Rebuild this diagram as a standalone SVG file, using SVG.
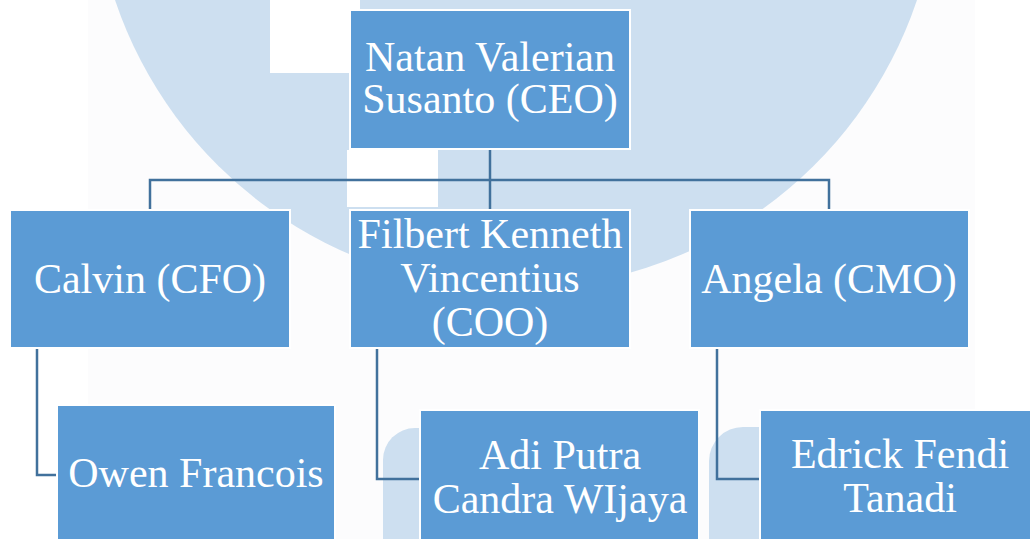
<svg xmlns="http://www.w3.org/2000/svg" width="1030" height="539" viewBox="0 0 1030 539">
<style>
.bg{fill:#ffffff}
.tint{fill:#fcfcfd}
.wm{fill:#cddff0}
.wmw{fill:#ffffff}
.box{fill:#5b9bd5;stroke:#ffffff;stroke-width:2}
.lbl{font-family:"Liberation Serif","Times New Roman",serif;font-size:42px;fill:#ffffff;text-anchor:middle}
.conn{fill:none;stroke:#41719c;stroke-width:2.5}
</style>
<rect class="bg" x="0" y="0" width="1030" height="539"/>
<g id="watermark">
<rect class="tint" x="88" y="0" width="887" height="539"/>
<path class="wm" d="M115,0 A423,423 0 0 0 917,0 Z"/>
<rect class="wmw" x="270" y="0" width="90" height="73"/>
<rect class="wmw" x="347" y="150" width="91" height="57"/>
<rect class="wm" x="383" y="428" width="120" height="200" rx="32"/>
<rect class="wm" x="709" y="427" width="120" height="200" rx="34"/>
</g>
<g id="connectors">
<path class="conn" d="M490,150 V210"/>
<path class="conn" d="M150,210 V180 H829 V210"/>
<path class="conn" d="M37,348 V475 H57"/>
<path class="conn" d="M377,348 V479 H420"/>
<path class="conn" d="M717,348 V479 H760"/>
</g>
<g id="ceo">
<rect class="box" x="350" y="10" width="280" height="139"/>
<text class="lbl" x="490" y="71">Natan Valerian</text>
<text class="lbl" x="490" y="113">Susanto (CEO)</text>
</g>
<g id="cfo">
<rect class="box" x="10" y="210" width="280" height="138"/>
<text class="lbl" x="150" y="293">Calvin (CFO)</text>
</g>
<g id="coo">
<rect class="box" x="350" y="210" width="280" height="138"/>
<text class="lbl" x="490" y="248">Filbert Kenneth</text>
<text class="lbl" x="490" y="292">Vincentius</text>
<text class="lbl" x="490" y="336">(COO)</text>
</g>
<g id="cmo">
<rect class="box" x="690" y="210" width="279" height="138"/>
<text class="lbl" x="829" y="293">Angela (CMO)</text>
</g>
<g id="owen">
<rect class="box" x="57" y="405" width="278" height="138"/>
<text class="lbl" x="196" y="487">Owen Francois</text>
</g>
<g id="adi">
<rect class="box" x="420" y="410" width="279" height="138"/>
<text class="lbl" x="560" y="469">Adi Putra</text>
<text class="lbl" x="560" y="513">Candra WIjaya</text>
</g>
<g id="edrick">
<rect class="box" x="760" y="410" width="280" height="138"/>
<text class="lbl" x="900" y="468">Edrick Fendi</text>
<text class="lbl" x="900" y="512">Tanadi</text>
</g>
</svg>
